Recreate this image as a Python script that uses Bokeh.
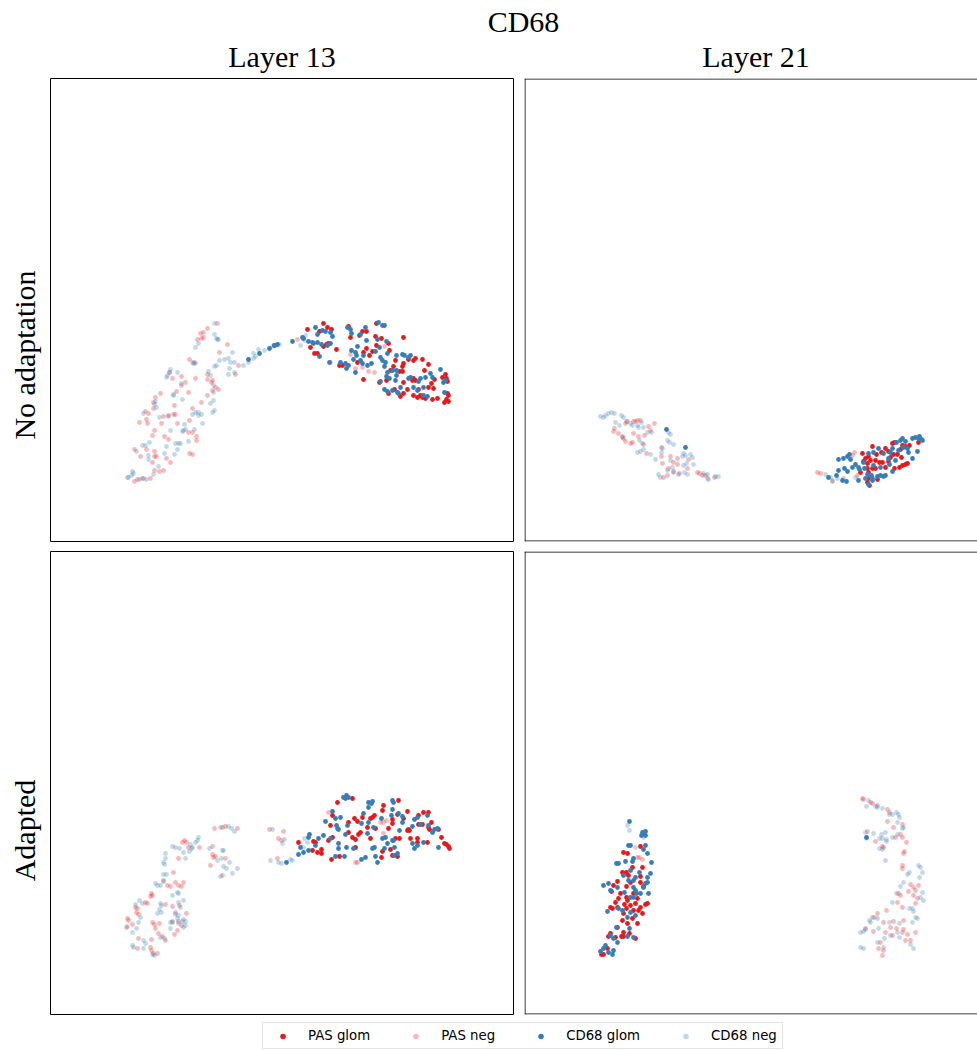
import math
from bokeh.plotting import figure
from bokeh.models import Range1d, Label, Span, Legend, LegendItem, ColumnDataSource
from bokeh.layouts import column, row
from bokeh.embed import file_html
from bokeh.resources import INLINE

# ---------------- data (embedding coordinates) ----------------
series_names = ["PAS glom", "PAS neg", "CD68 glom", "CD68 neg"]
series_colors = ["#e41a1c", "#e41a1c", "#377eb8", "#377eb8"]
series_alpha = [1.0, 0.3, 1.0, 0.3]

main_title = "CD68"
col_titles = ["Layer 13", "Layer 21"]
row_titles = ["No adaptation", "Adapted"]

# Layer 13 / No adaptation
tl_pas_glom = [(274,345),(307,329),(323,323),(327,327),(331,329),(319,331),(348,326),(350,337),(359,335),(362,331),(366,331),(376,323),(375,336),(381,338),(403,337),(310,347),(314,353),(317,353),(323,346),(326,344),(328,343),(336,349),(339,365),(342,365),(357,362),(363,352),(366,348),(369,355),(372,351),(376,345),(363,379),(379,382),(388,343),(389,350),(390,370),(393,366),(395,360),(399,371),(402,371),(403,363),(402,366),(403,382),(386,380),(388,393),(394,389),(407,389),(408,359),(413,360),(415,358),(422,359),(413,378),(415,380),(412,380),(424,370),(428,364),(431,383),(434,379),(433,388),(428,387),(418,389),(420,395),(422,397),(413,395),(417,397),(425,398),(432,399),(437,398),(445,374),(446,378),(447,381),(442,377),(447,393),(448,395),(446,399),(448,401),(444,402),(403,393),(400,396)]
tl_pas_neg = [(217,323),(207,328),(200,333),(203,332),(203,337),(201,338),(197,339),(227,344),(219,352),(189,359),(194,362),(238,365),(235,374),(169,372),(207,374),(181,376),(172,378),(195,378),(212,380),(211,382),(207,379),(185,382),(181,385),(215,387),(218,389),(212,390),(176,391),(188,392),(160,393),(207,395),(155,397),(153,402),(201,402),(174,405),(153,408),(192,408),(145,411),(148,413),(175,414),(173,414),(163,416),(168,415),(146,419),(139,422),(147,423),(161,423),(177,423),(189,420),(154,430),(192,432),(188,432),(152,435),(164,436),(196,436),(196,440),(168,439),(134,449),(146,449),(140,456),(154,451),(189,453),(192,454),(154,456),(156,456),(166,458),(152,462),(170,462),(154,470),(159,471),(163,470),(137,479),(142,478),(134,481),(150,478),(297,339),(350,354),(355,368),(362,367),(368,371),(374,372),(384,346),(330,362)]
tl_cd68_glom = [(248,359),(259,353),(269,348),(274,345),(277,344),(292,341),(302,337),(303,338),(308,341),(312,342),(313,343),(315,327),(317,334),(322,330),(325,331),(330,332),(332,336),(317,342),(321,344),(327,345),(330,343),(319,356),(329,362),(340,362),(347,327),(350,329),(351,333),(357,346),(351,350),(355,352),(356,355),(353,359),(345,363),(346,368),(348,365),(355,372),(360,334),(365,327),(366,340),(360,360),(362,363),(363,355),(367,365),(371,363),(378,322),(382,325),(384,325),(375,351),(377,339),(379,347),(380,357),(382,360),(385,362),(386,341),(387,353),(384,366),(387,372),(386,376),(380,381),(389,378),(392,370),(396,355),(402,354),(404,355),(396,370),(400,387),(397,392),(384,389),(387,391),(392,390),(398,393),(408,357),(410,355),(408,378),(410,377),(418,381),(420,378),(417,390),(423,387),(425,377),(430,373),(432,377),(440,369),(443,382),(445,380),(423,395),(427,396),(444,392),(395,380),(413,387),(396,375)]
tl_cd68_neg = [(214,323),(214,334),(216,338),(217,339),(218,339),(198,343),(195,347),(232,352),(192,362),(195,363),(193,363),(219,360),(224,359),(228,358),(230,362),(234,362),(243,365),(216,365),(214,366),(229,368),(228,374),(234,372),(208,371),(210,375),(170,369),(169,372),(167,375),(166,377),(177,372),(181,383),(213,385),(213,392),(173,394),(173,395),(182,399),(213,400),(155,401),(154,404),(156,407),(210,403),(214,410),(212,412),(143,413),(195,412),(198,412),(201,414),(198,415),(192,414),(159,417),(168,416),(202,423),(184,424),(170,430),(182,431),(183,430),(185,429),(194,429),(188,441),(149,442),(142,445),(145,445),(178,443),(175,443),(180,443),(166,446),(177,449),(136,451),(164,453),(174,454),(148,455),(148,459),(158,466),(132,471),(133,473),(131,475),(153,474),(127,477),(128,477),(146,479),(143,478),(139,479),(253,358),(255,356),(264,350),(279,344),(272,346),(248,362),(253,353),(258,349),(300,345),(305,335),(304,340)]

# Layer 21 / No adaptation
tr_pas_glom = [(868,456),(872,446),(876,454),(870,460),(865,458),(863,461),(867,463),(875,460),(879,462),(882,462),(885,448),(881,452),(888,451),(892,443),(894,442),(890,457),(893,454),(897,454),(900,449),(902,445),(905,446),(901,457),(888,461),(885,467),(894,468),(899,467),(902,465),(905,464),(907,463),(867,468),(868,472),(872,468),(875,468),(868,478),(867,482),(869,485),(877,479),(860,472),(862,453),(918,442),(909,445)]
tr_pas_neg = [(613,431),(614,428),(618,433),(622,436),(623,438),(625,441),(630,443),(632,442),(626,421),(625,423),(633,421),(635,421),(637,420),(640,420),(633,433),(638,436),(644,435),(648,426),(650,430),(654,423),(643,444),(646,453),(661,447),(661,456),(670,456),(673,462),(677,464),(662,463),(668,468),(673,471),(667,475),(663,477),(679,473),(687,468),(697,472),(699,473),(702,475),(705,475),(714,477),(677,458),(688,459),(817,472),(820,473),(854,452),(852,455),(843,478),(857,475),(832,481)]
tr_cd68_glom = [(666,429),(685,447),(838,459),(843,458),(847,456),(849,454),(850,459),(855,464),(852,467),(847,471),(838,470),(836,475),(828,477),(842,480),(846,481),(858,480),(858,467),(863,462),(864,468),(867,474),(865,478),(871,475),(872,478),(877,476),(880,475),(883,476),(885,475),(868,453),(873,452),(873,465),(880,467),(878,448),(883,453),(888,458),(890,452),(892,448),(889,464),(895,460),(896,442),(900,440),(898,450),(903,447),(902,438),(905,441),(907,448),(908,452),(912,458),(917,451),(912,438),(915,437),(918,438),(921,439),(922,440),(919,436),(892,471),(868,484),(872,480),(859,469),(844,468)]
tr_cd68_neg = [(600,416),(603,417),(605,415),(608,413),(611,412),(614,413),(615,422),(621,415),(623,417),(619,425),(627,421),(630,423),(632,425),(637,425),(638,427),(641,422),(643,427),(647,432),(651,432),(622,437),(639,440),(642,443),(637,452),(640,451),(643,449),(650,454),(655,459),(668,432),(670,434),(667,440),(669,442),(673,444),(662,448),(661,452),(683,453),(685,455),(690,454),(692,457),(682,456),(683,465),(670,460),(672,467),(686,463),(693,464),(667,470),(658,474),(673,472),(687,474),(684,472),(703,473),(707,474),(707,478),(708,479),(715,476),(718,476),(660,477),(678,474),(830,477),(832,480),(837,478),(825,474),(855,477)]

# Layer 13 / Adapted
bl_pas_glom = [(337,802),(352,798),(332,815),(330,825),(348,822),(354,818),(357,821),(348,832),(358,834),(360,832),(352,837),(355,839),(298,842),(313,841),(315,842),(312,850),(317,852),(321,853),(321,849),(332,837),(328,840),(339,856),(331,859),(355,847),(362,817),(370,818),(372,817),(374,815),(367,827),(370,838),(375,828),(382,810),(383,805),(388,828),(392,819),(397,814),(398,800),(395,838),(399,838),(392,855),(382,851),(381,857),(390,849),(403,818),(407,811),(408,829),(409,830),(410,838),(417,838),(418,824),(418,815),(423,812),(428,812),(422,824),(428,827),(429,829),(431,822),(438,829),(441,837),(427,842),(444,843),(446,844),(448,846),(449,848),(417,842),(397,856),(392,823),(407,830)]
bl_pas_neg = [(214,828),(222,827),(225,826),(237,828),(182,842),(184,840),(186,842),(188,847),(199,847),(212,846),(178,858),(212,854),(213,857),(215,856),(225,858),(210,865),(222,875),(173,872),(163,881),(167,885),(170,886),(175,882),(178,885),(183,882),(181,886),(151,893),(152,895),(150,896),(145,902),(147,903),(135,907),(137,908),(136,912),(138,914),(165,904),(172,906),(179,905),(175,912),(186,913),(127,918),(128,920),(132,924),(126,927),(152,922),(154,924),(159,923),(172,921),(178,921),(181,925),(177,930),(155,928),(158,933),(162,936),(165,940),(138,938),(151,939),(174,934),(150,947),(151,950),(137,948),(153,953),(157,953),(269,829),(283,831),(278,838),(281,840),(277,858),(328,812),(355,862),(357,862),(383,833),(380,822),(383,822),(386,820)]
bl_cd68_glom = [(343,797),(345,798),(348,797),(346,795),(332,811),(335,818),(340,817),(325,821),(337,828),(338,829),(336,825),(347,825),(345,834),(323,835),(308,837),(300,847),(303,852),(298,854),(308,850),(315,845),(318,838),(330,838),(338,843),(338,848),(346,847),(353,848),(335,856),(344,856),(361,859),(365,857),(368,802),(371,803),(372,801),(368,807),(363,813),(361,823),(368,822),(373,827),(367,833),(374,847),(372,848),(375,856),(377,862),(381,818),(382,838),(385,837),(387,843),(384,848),(392,800),(393,802),(392,809),(391,815),(398,813),(402,816),(402,822),(399,830),(393,840),(394,847),(394,855),(397,853),(414,819),(417,817),(412,826),(420,824),(427,815),(428,825),(432,832),(434,829),(437,828),(423,842),(412,843),(414,848),(417,845),(438,847),(392,840),(286,862),(309,834)]
bl_cd68_neg = [(220,827),(228,826),(231,828),(234,831),(198,837),(197,840),(195,842),(190,844),(192,847),(191,848),(172,846),(175,847),(179,848),(183,852),(189,851),(209,848),(222,850),(223,850),(185,858),(165,853),(165,858),(163,862),(164,864),(221,858),(217,860),(229,862),(223,866),(226,868),(237,868),(232,873),(220,876),(163,874),(166,874),(163,880),(155,883),(157,885),(160,885),(177,892),(178,893),(172,895),(183,900),(178,902),(180,907),(139,900),(142,903),(135,904),(160,903),(161,905),(159,909),(157,913),(161,912),(175,914),(178,915),(177,918),(183,919),(185,921),(178,923),(182,921),(172,922),(170,922),(183,927),(185,925),(140,917),(138,922),(136,928),(132,932),(127,926),(160,937),(164,938),(143,940),(145,943),(132,945),(133,947),(143,948),(152,954),(154,955),(170,928),(272,829),(284,839),(282,843),(270,860),(278,862),(281,863),(290,859),(292,860),(303,847),(307,842),(304,838)]

# Layer 21 / Adapted
br_pas_glom = [(623,852),(627,853),(640,846),(632,867),(622,872),(623,873),(626,872),(642,867),(640,876),(628,875),(617,881),(611,891),(613,885),(620,893),(626,886),(630,882),(640,882),(643,886),(633,893),(618,898),(626,897),(627,900),(637,898),(647,903),(645,904),(615,902),(610,907),(612,908),(624,904),(635,903),(640,907),(638,910),(642,913),(630,905),(626,908),(623,913),(633,910),(622,920),(632,918),(627,923),(617,927),(623,932),(629,933),(610,933),(608,936),(615,937),(621,936),(635,938),(601,954),(603,954),(607,948),(623,936),(617,907),(637,923)]
br_pas_neg = [(637,857),(639,857),(642,859),(862,798),(863,799),(870,802),(872,803),(877,805),(887,809),(889,812),(887,821),(893,827),(902,824),(900,834),(902,837),(895,837),(875,841),(882,846),(883,847),(906,842),(867,831),(903,853),(904,851),(902,865),(902,868),(910,884),(913,887),(915,890),(908,891),(918,885),(900,895),(898,893),(913,895),(917,898),(897,902),(902,907),(915,903),(886,910),(877,913),(872,917),(883,922),(893,921),(903,920),(865,928),(873,931),(890,927),(896,928),(885,932),(902,932),(903,929),(892,935),(907,934),(915,932),(910,940),(880,942),(878,948),(883,950),(882,955),(905,940)]
br_cd68_glom = [(629,821),(642,832),(643,833),(645,831),(645,835),(641,835),(628,845),(630,845),(645,845),(643,849),(647,853),(632,861),(633,858),(616,863),(618,863),(625,861),(651,862),(639,872),(630,870),(650,873),(647,877),(645,883),(647,882),(623,875),(628,880),(635,877),(633,880),(603,885),(608,883),(610,890),(617,887),(633,887),(635,890),(636,893),(643,887),(640,893),(624,892),(607,911),(618,908),(622,910),(630,912),(635,915),(627,917),(616,927),(610,935),(613,938),(617,942),(629,928),(627,936),(633,937),(605,945),(603,948),(600,951),(608,952),(612,954),(613,950),(633,897),(648,893),(630,897),(866,837)]
br_cd68_neg = [(627,825),(629,830),(643,837),(635,847),(868,800),(866,806),(875,806),(877,807),(882,808),(889,814),(892,814),(896,812),(898,814),(899,817),(897,822),(902,828),(903,827),(865,832),(873,833),(866,838),(881,834),(885,832),(879,838),(882,838),(886,839),(892,837),(897,834),(886,841),(879,848),(882,849),(885,860),(918,865),(920,867),(922,872),(919,877),(909,872),(907,874),(903,882),(900,886),(922,892),(920,897),(923,900),(896,893),(892,902),(909,908),(912,908),(913,911),(915,917),(917,918),(912,922),(874,917),(877,918),(869,920),(865,929),(863,931),(860,932),(870,922),(878,928),(899,923),(889,922),(897,932),(899,937),(884,938),(877,942),(860,947),(863,948),(883,947),(910,944),(913,948),(890,935)]

# ---------------- styling / layout ----------------
SERIF = "Liberation Serif"
TITLE_SIZE = "30px"
PT_SIZE = 4.8
FRAME = 463
HALF_PX = 0.5  # keeps the hand-drawn frame edges on whole pixels


def strip(width, height):
    s = figure(width=width, height=height, x_range=Range1d(0, 1), y_range=Range1d(0, 1),
               x_axis_location=None, y_axis_location=None, toolbar_location=None,
               output_backend="svg", min_border=0, outline_line_color=None,
               background_fill_color="white", border_fill_color="white")
    s.grid.visible = False
    return s


def text_label(x, y, text, angle=0.0):
    return Label(x=x, y=y, x_units="screen", y_units="screen", angle=angle, text=text,
                 text_font=SERIF, text_font_size=TITLE_SIZE, text_align="center",
                 text_baseline="alphabetic", text_color="black")


def make_panel(series, x_lo, x_hi, y_top, y_bot, left, right, top, bottom, open_right=False):
    width = left + (x_hi - x_lo) + right
    height = top + FRAME + bottom
    p = figure(width=width, height=height,
               x_range=Range1d(x_lo, x_hi), y_range=Range1d(y_bot, y_top),
               x_axis_location=None, y_axis_location=None,
               toolbar_location=None, output_backend="svg",
               min_border_left=left, min_border_right=right,
               min_border_top=top, min_border_bottom=bottom,
               background_fill_color="white", border_fill_color="white")
    p.grid.visible = False
    for pts, color, alpha in zip(series, series_colors, series_alpha):
        src = ColumnDataSource(dict(x=[q[0] for q in pts], y=[q[1] for q in pts]))
        p.scatter("x", "y", source=src, size=PT_SIZE, fill_color=color,
                  fill_alpha=alpha, line_color=None)
    if open_right:
        # frame cut off by the window on the right: draw only left/top/bottom edges
        p.outline_line_color = None
        for loc, dim in ((x_lo + HALF_PX, "height"), (y_top + HALF_PX, "width"),
                         (y_bot - HALF_PX, "width")):
            p.add_layout(Span(location=loc, dimension=dim, line_color="black",
                              line_width=1))
    else:
        p.outline_line_color = "black"
        p.outline_line_width = 1
        p.outline_line_alpha = 1
    return p


tl = make_panel([tl_pas_glom, tl_pas_neg, tl_cd68_glom, tl_cd68_neg], 50, 513, 78, 541,
                1, 5, 1, 4)
tr = make_panel([tr_pas_glom, tr_pas_neg, tr_cd68_glom, tr_cd68_neg], 524, 977, 78, 541,
                6, 0, 1, 4, open_right=True)
bl = make_panel([bl_pas_glom, bl_pas_neg, bl_cd68_glom, bl_cd68_neg], 50, 513, 551, 1014,
                1, 5, 6, 1)
br = make_panel([br_pas_glom, br_pas_neg, br_cd68_glom, br_cd68_neg], 524, 977, 551, 1014,
                6, 0, 6, 1, open_right=True)

# header strip: overall title and column titles
head = strip(977, 77)
head.add_layout(text_label(523, 56, main_title))
head.add_layout(text_label(281.5, 21, col_titles[0]))
head.add_layout(text_label(755.5, 21, col_titles[1]))

# left strip: row titles (rotated)
side = strip(49, 938)
side.add_layout(text_label(24, 660.5, row_titles[0], angle=math.pi / 2))
side.add_layout(text_label(24, 185, row_titles[1], angle=math.pi / 2))

# legend strip
leg = strip(977, 35)
nan = float("nan")
items = []
for name, color, alpha in zip(series_names, series_colors, series_alpha):
    r = leg.scatter(x=[nan], y=[nan], size=6, fill_color=color, fill_alpha=alpha,
                    line_color=None)
    items.append(LegendItem(label=name, renderers=[r]))
legend = Legend(items=items, orientation="horizontal", location=(262, 1), margin=0,
                padding=5, spacing=31, glyph_width=29, glyph_height=14, label_height=14,
                label_standoff=11, label_text_font="DejaVu Sans",
                label_text_font_size="13.3px", label_text_color="black",
                border_line_color="#cccccc", border_line_width=1,
                background_fill_color="white", background_fill_alpha=0.8)
leg.add_layout(legend)

layout = column(head, row(side, column(row(tl, tr), row(bl, br))), leg)
open("out.html", "w").write(file_html(layout, INLINE))
